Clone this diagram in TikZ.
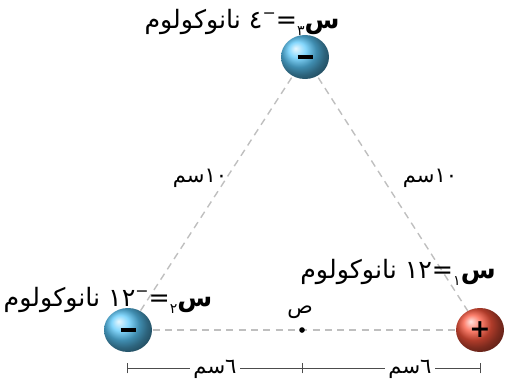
\documentclass[tikz,border=0pt]{standalone}
\usepackage{fontspec}
\newfontfamily\arabicfont[Script=Arabic]{DejaVu Sans}
\TeXXeTstate=1
\usetikzlibrary{shapes.geometric}
\newcommand{\lowtxt}[1]{\raisebox{-0.5ex}{\footnotesize #1}}
\newcommand{\hightxt}[1]{\raisebox{0.7ex}{\small #1}}
\newcommand{\minusbar}{\rule[-1pt]{0.3cm}{2.2pt}}
\tikzset{
  charge/.style={ellipse, minimum width=0.96cm, minimum height=0.88cm, inner sep=0pt, shading=ball, text=black, font=\arabicfont\Large\bfseries},
  negcharge/.style={charge, ball color={rgb,255:red,90;green,200;blue,250}},
  poscharge/.style={charge, ball color={rgb,255:red,250;green,85;blue,60}},
  side/.style={draw=gray!50, dashed, dash pattern=on 4pt off 3pt, line width=0.8pt},
  qlabel/.style={font=\arabicfont\Large, inner sep=1pt},
  dist/.style={font=\arabicfont\large, inner sep=2pt},
  dimline/.style={draw=black!70, line width=0.5pt}
}
\begin{document}
\begin{tikzpicture}
\useasboundingbox (0,0) rectangle (10.1,7.7);
% charges
\coordinate (q3pos) at (6.1,6.56);
\coordinate (q2pos) at (2.56,1.1);
\coordinate (q1pos) at (9.6,1.1);
\coordinate (p) at (6.04,1.1);
\draw[side] (q3pos) -- (q2pos);
\draw[side] (q3pos) -- (q1pos);
\draw[side] (q2pos) -- (q1pos);
\node[negcharge] (q3) at (q3pos) {\minusbar};
\node[negcharge] (q2) at (q2pos) {\minusbar};
\node[poscharge] (q1) at (q1pos) {+};
\fill (p) circle (1.6pt);
\node[font=\arabicfont\large] (plabel) at (6.0,1.46) {ص};
% charge labels
\node[qlabel] (l3) at (4.84,7.26) {\beginR{\bfseries س}\lowtxt{٣}=\hightxt{−}٤ نانوكولوم\endR};
\node[qlabel] (l2) at (2.16,1.7) {\beginR{\bfseries س}\lowtxt{٢}=\hightxt{−}\beginL١٢\endL{} نانوكولوم\endR};
\node[qlabel] (l1) at (7.96,2.26) {\beginR{\bfseries س}\lowtxt{١}=\beginL١٢\endL{} نانوكولوم\endR};
% side lengths
\node[dist] (d1) at (4.0,4.14) {\beginR\beginL١٠\endL{}سم\endR};
\node[dist] (d2) at (8.6,4.14) {\beginR\beginL١٠\endL{}سم\endR};
% dimension line
\coordinate (ta) at (2.54,0.34);
\coordinate (tb) at (6.04,0.34);
\coordinate (tc) at (9.6,0.34);
\draw[dimline] (ta) -- (tc);
\foreach \t in {ta,tb,tc}
  \draw[dimline] ([yshift=-3pt]\t) -- ([yshift=3pt]\t);
\node[dist, fill=white] (d3) at (4.3,0.32) {\beginR ٦سم\endR};
\node[dist, fill=white] (d4) at (8.2,0.32) {\beginR ٦سم\endR};
\end{tikzpicture}
\end{document}
